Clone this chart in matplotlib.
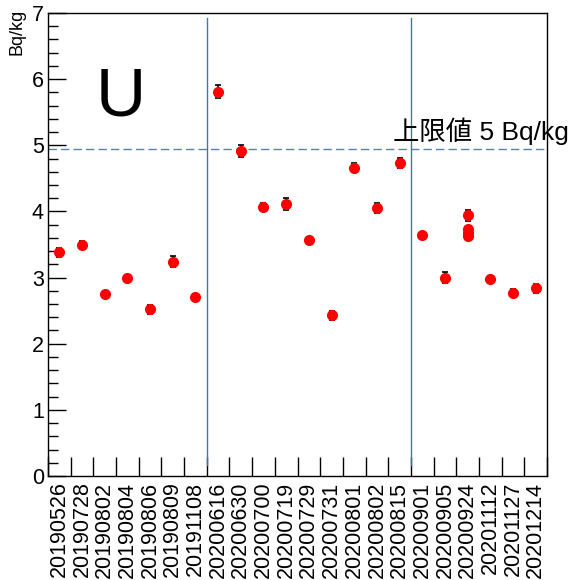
import matplotlib.pyplot as plt
import numpy as np
from matplotlib.ticker import MultipleLocator

# sampling dates (one bin each)
dates = ["20190526", "20190728", "20190802", "20190804", "20190806", "20190809",
         "20191108", "20200616", "20200630", "20200700", "20200719", "20200729",
         "20200731", "20200801", "20200802", "20200815", "20200901", "20200905",
         "20200924", "20201112", "20201127", "20201214"]

# measured U concentration per sample [Bq/kg]
sample_dates = ["20190526", "20190728", "20190802", "20190804", "20190806", "20190809",
                "20191108", "20200616", "20200630", "20200700", "20200719", "20200729",
                "20200731", "20200801", "20200802", "20200815", "20200901", "20200905",
                "20200924", "20200924", "20200924", "20200924",
                "20201112", "20201127", "20201214"]
u_values = [3.38, 3.50, 2.75, 2.99, 2.52, 3.24,
            2.71, 5.81, 4.91, 4.07, 4.11, 3.57,
            2.43, 4.66, 4.05, 4.73, 3.65, 3.00,
            3.94, 3.73, 3.67, 3.63,
            2.98, 2.77, 2.84]
u_errors = [0.07, 0.05, 0.04, 0.05, 0.07, 0.08,
            0.04, 0.10, 0.09, 0.05, 0.09, 0.05,
            0.07, 0.07, 0.08, 0.08, 0.04, 0.08,
            0.08, 0.05, 0.05, 0.05,
            0.05, 0.05, 0.07]

limit = 4.95          # upper limit line
period_edges = [7, 16]  # bin boundaries separating measurement periods

plt.rcParams['font.family'] = ['Liberation Sans', 'Noto Sans CJK JP', 'DejaVu Sans']

fig = plt.figure(figsize=(5.72, 5.80), dpi=100)
ax = fig.add_axes([48 / 572, 104 / 580, 499 / 572, 463 / 580])

xpos = [dates.index(d) + 0.5 for d in sample_dates]
ax.errorbar(xpos, u_values, yerr=u_errors, fmt='o', color='red', ms=7,
            ecolor='black', elinewidth=1.2, capsize=2.5, capthick=1.2, zorder=3)

ax.axhline(limit, color='#5b7cc4', lw=1, ls=(0, (6, 3)), zorder=2)
for e in period_edges:
    ax.plot([e, e], [0.17, 6.92], color='#4a6db5', lw=1, zorder=2)

ax.text(15.2, 5.08, "上限値 5 Bq/kg", fontsize=19, clip_on=False)
ax.text(2.1, 5.45, "U", fontsize=50)

ax.set_xlim(0, len(dates))
ax.set_ylim(0, 7)

# bin edges as ticks, labels at bin centres
ax.set_xticks(np.arange(len(dates) + 1))
ax.set_xticklabels([])
ax.set_xticks(np.arange(len(dates)) + 0.5, minor=True)
ax.set_xticklabels(dates, minor=True, rotation=90, fontsize=15.5)
ax.tick_params(axis='x', which='major', direction='in', length=14, width=1)
ax.tick_params(axis='x', which='minor', length=0, pad=4)

ax.yaxis.set_major_locator(MultipleLocator(1))
ax.yaxis.set_minor_locator(MultipleLocator(0.2))
ax.tick_params(axis='y', which='major', direction='in', length=13, width=1,
               labelsize=15.5, pad=3)
ax.tick_params(axis='y', which='minor', direction='in', length=7, width=1)

fig.text(17 / 572, 1 - 9 / 580, "Bq/kg", fontsize=13, rotation=90,
         ha='center', va='top')

for s in ax.spines.values():
    s.set_linewidth(1)

fig.savefig("out.png", dpi=100)
